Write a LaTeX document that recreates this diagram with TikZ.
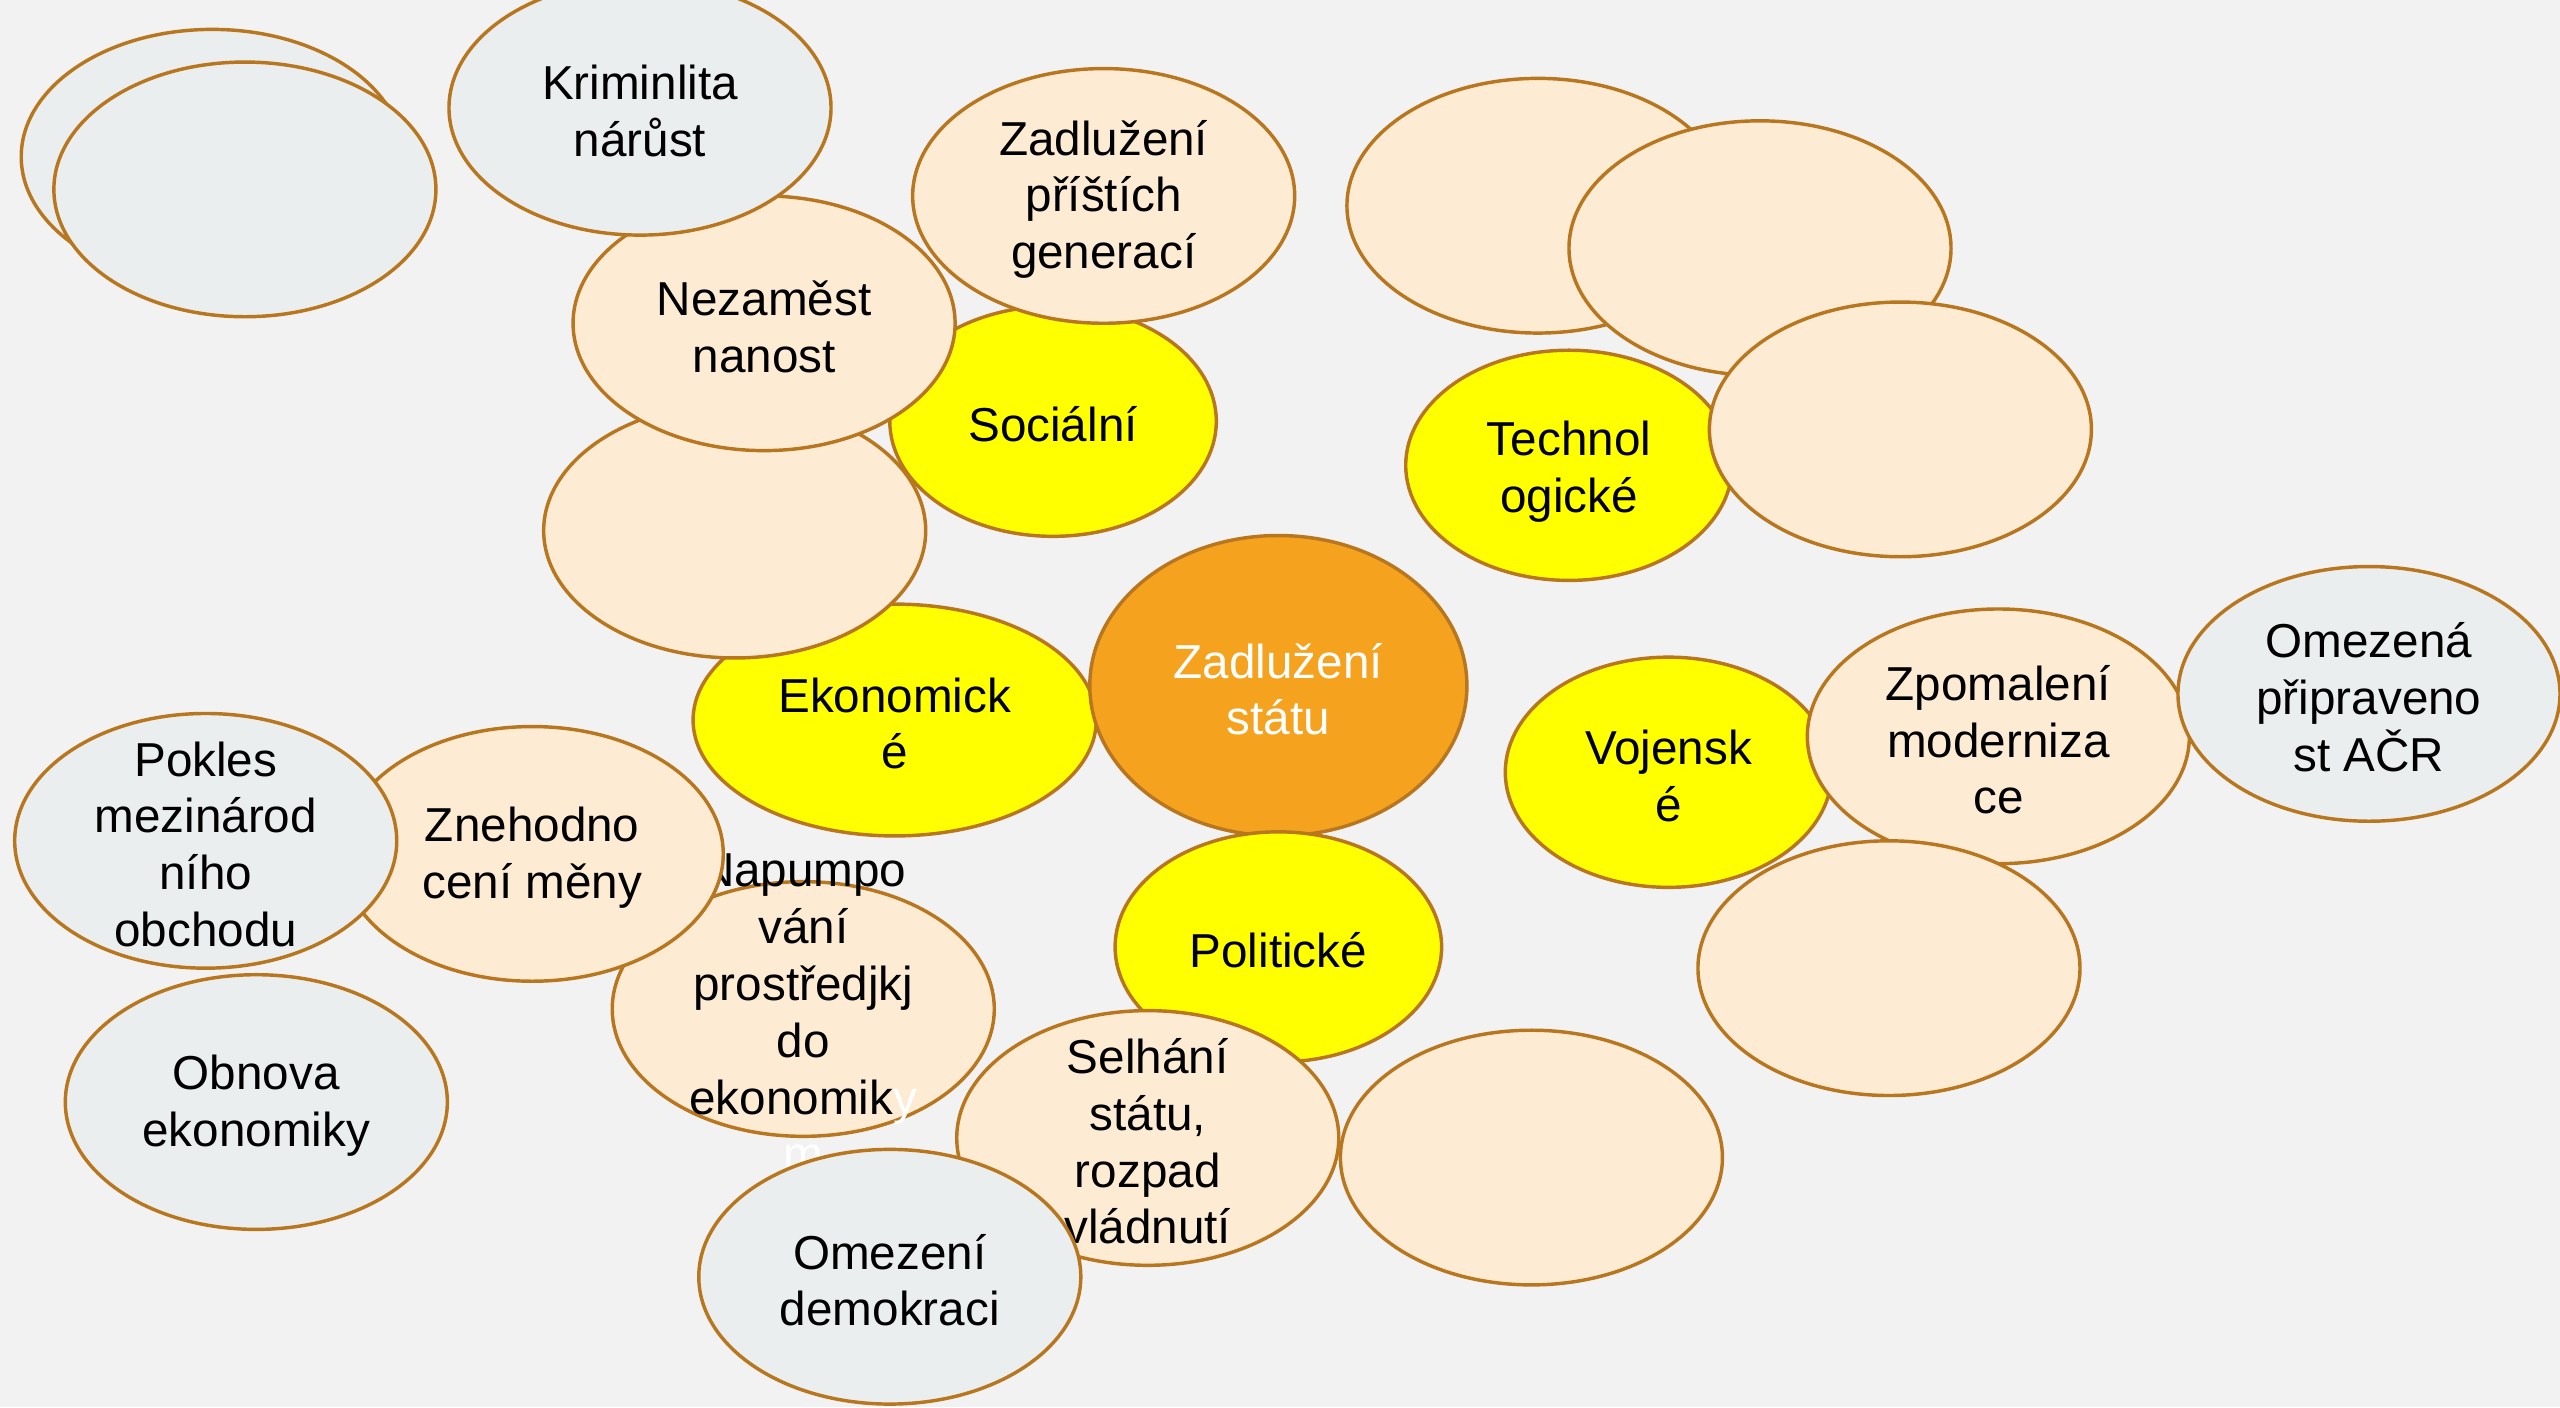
\documentclass[tikz,border=0pt]{standalone}
\usepackage{fontspec}
\setmainfont{Liberation Sans}
\usetikzlibrary{shapes.geometric}
\definecolor{bgcol}{RGB}{242,242,242}
\definecolor{edgecol}{RGB}{184,118,30}
\definecolor{greycol}{RGB}{234,238,239}
\definecolor{peachcol}{RGB}{253,235,212}
\definecolor{orangecol}{RGB}{245,162,31}
\definecolor{yellowcol}{RGB}{255,255,0}
\tikzset{
  bub/.style={ellipse, draw=edgecol, line width=0.6pt, inner sep=0pt,
    minimum width=23.4mm, minimum height=15.6mm},
  greybub/.style={bub, fill=greycol},
  peachbub/.style={bub, fill=peachcol},
  yellowbub/.style={bub, fill=yellowcol, minimum width=20mm, minimum height=14.1mm},
  txt/.style={align=center, yshift=-0.6pt, font=\fontsize{8.3}{9.9}\selectfont},
}
\begin{document}
\begin{tikzpicture}[x=0.1mm,y=-0.1mm]
\fill[bgcol] (0,0) rectangle (1568,862);
\useasboundingbox (0,0) rectangle (1568,862);

% prazdne vlevo nahore
\foreach \x/\y/\n in {130/96/emptyA,150/116/emptyB}
    \node[greybub] (\n) at (\x,\y) {};

% socialni vetev
\node[yellowbub] (social) at (645,258) {};
\node[txt] (socialT) at (social) {Sociální};
\node[peachbub] (future) at (676,120) {};
\node[txt] (futureT) at (future) {Zadlužení\\příštích\\generací};
\node[yellowbub, minimum width=24.7mm, minimum height=14.2mm] (econ) at (548,441) {};
\node[txt] (econT) at (econ) {Ekonomick\\é};
\node[peachbub] (emptyC) at (450,325) {};
\node[peachbub] (unemp) at (468,198) {};
\node[txt] (unempT) at (unemp) {Nezaměst\\nanost};
\node[greybub] (crime) at (392,66) {};
\node[txt] (crimeT) at (crime) {Kriminlita\\nárůst};

% stred
\node[bub, fill=orangecol, minimum width=23.1mm, minimum height=18.4mm] (debt) at (783,420) {};
\node[txt, white] (debtT) at (debt) {Zadlužení\\státu};

% politicka vetev
\node[yellowbub] (polit) at (783,580) {};
\node[txt] (politT) at (polit) {Politické};
\node[peachbub] (fail) at (703,697) {};
\node[txt] (failT) at (fail) {Selhání\\státu,\\rozpad\\vládnutí};
\node[peachbub] (emptyD) at (938,709) {};

% ekonomicka vetev
\node[peachbub] (pump) at (492,618) {};
\node[txt] (pumpT) at (pump) {Napumpo\\vání\\prostředjkj\\do\\ekonomik\textcolor{white}{y}\\\textcolor{white}{m}};
\node[greybub] (democ) at (545,782) {};
\node[txt] (democT) at (democ) {Omezení\\demokraci};
\node[peachbub] (curr) at (326,523) {};
\node[txt] (currT) at (curr) {Znehodno\\cení měny};
\node[greybub] (trade) at (126,515) {};
\node[txt] (tradeT) at (trade) {Pokles\\mezinárod\\ního\\obchodu};
\node[greybub] (renew) at (157,675) {};
\node[txt] (renewT) at (renew) {Obnova\\ekonomiky};

% technologicka vetev
\node[yellowbub] (tech) at (961,285) {};
\node[txt] (techT) at ([yshift=-0.5pt]tech) {Technol\\ogické};
\foreach \x/\y/\n in {942/126/emptyE,1078/152/emptyF,1164/263/emptyG}
    \node[peachbub] (\n) at (\x,\y) {};

% vojenska vetev
\node[yellowbub] (army) at (1022,473) {};
\node[txt] (armyT) at (army) {Vojensk\\é};
\node[peachbub] (modern) at (1224,451) {};
\node[txt] (modernT) at (modern) {Zpomalení\\moderniza\\ce};
\node[peachbub] (emptyH) at (1157,593) {};
\node[greybub] (ready) at (1451,425) {};
\node[txt] (readyT) at (ready) {Omezená\\připraveno\\st AČR};
\end{tikzpicture}
\end{document}
